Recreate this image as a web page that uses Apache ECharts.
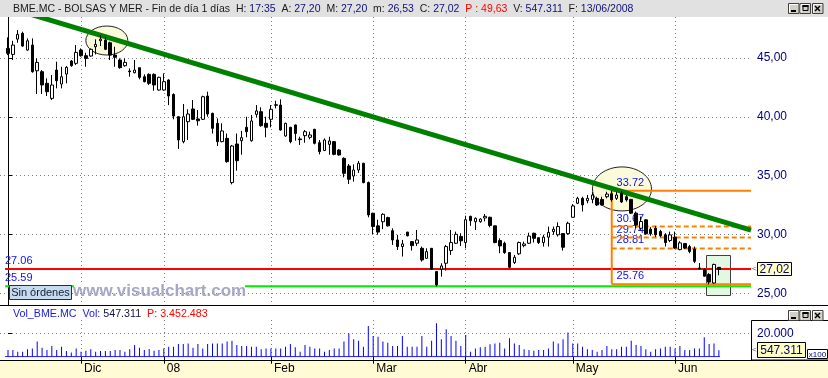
<!DOCTYPE html>
<html><head><meta charset="utf-8">
<script src="https://cdn.jsdelivr.net/npm/echarts@6/dist/echarts.min.js"></script>
<style>html,body{margin:0;padding:0;background:#fff}#c{width:828px;height:378px}</style>
</head><body><div id="c"></div>
<script>
const FONT = '"Liberation Sans", Arial, sans-serif';

// ---- categories: trading days (Madrid exchange) ----
const firstDay = '2007-11-12', lastDay = '2008-06-13';
const holidays = ['2007-12-24','2007-12-25','2007-12-26','2007-12-31','2008-01-01','2008-03-21','2008-03-24','2008-05-01'];
function tradingDays(start, end, skip) {
  const out = []; const d = new Date(start + 'T00:00:00Z'); const e = new Date(end + 'T00:00:00Z');
  while (d <= e) { const wd = d.getUTCDay(); const s = d.toISOString().slice(0, 10);
    if (wd !== 0 && wd !== 6 && skip.indexOf(s) < 0) out.push(s); d.setUTCDate(d.getUTCDate() + 1); }
  return out;
}
const dates = tradingDays(firstDay, lastDay, holidays);

// ---- tick labels ----
const monthKeys = ['2007-12','2008-01','2008-02','2008-03','2008-04','2008-05','2008-06'];
const monthTickLabels = ['Dic','08','Feb','Mar','Abr','May','Jun'];
const priceTicks = [25, 30, 35, 40, 45];
const volumeTicks = [20000];

// ---- series values ----
const opens = [45.82,45.31,46.61,47.10,45.68,46.10,43.92,43.84,42.85,41.57,
43.98,42.79,43.64,44.75,44.55,45.68,45.20,45.17,45.96,46.47,
46.53,46.30,45.25,44.83,44.35,43.90,43.75,44.18,43.41,43.61,
43.61,42.28,42.28,43.13,41.90,40.01,37.89,39.59,40.67,39.82,
39.79,41.77,40.30,39.45,37.89,38.17,34.41,37.69,37.97,39.11,
37.97,40.21,40.44,39.45,39.79,40.98,41.00,38.37,39.11,39.31,
38.12,38.40,38.26,38.94,37.80,37.13,37.66,37.89,37.18,36.47,
35.82,34.97,35.48,36.05,34.41,31.80,30.73,31.08,31.43,30.32,
29.53,28.97,30.20,29.39,29.25,28.82,27.97,28.82,26.84,27.04,
27.55,28.63,29.25,29.83,29.31,31.54,31.08,31.08,31.40,31.46,
30.73,29.48,29.25,28.46,27.61,28.35,29.05,29.25,30.10,29.72,
29.31,29.77,30.24,29.97,30.07,30.07,31.46,32.65,33.07,32.87,
32.98,33.07,32.98,33.21,33.46,33.07,33.52,33.21,32.98,31.81,
30.53,31.24,30.45,30.53,30.25,29.96,29.48,29.77,28.71,29.22,
28.97,28.76,27.15,27.02,26.60,25.87,27.20];
const highs = [46.76,46.47,47.38,47.24,46.67,46.67,44.97,43.98,43.27,43.56,
44.69,44.26,44.32,44.83,46.10,45.82,45.45,45.82,46.59,46.95,
46.81,46.39,45.96,44.97,44.97,44.12,44.83,44.18,43.61,43.70,
43.70,43.41,43.70,43.19,42.00,40.05,41.09,40.64,41.43,40.58,
41.80,42.14,40.35,39.87,39.45,38.58,37.61,38.58,38.80,40.01,
40.16,41.00,40.81,40.01,41.00,41.37,41.49,39.50,39.15,39.35,
38.31,38.88,38.74,38.98,38.03,38.17,38.31,37.93,37.25,36.56,
35.99,35.96,36.25,36.10,34.50,31.85,31.25,31.80,31.51,30.52,
29.97,29.53,30.22,29.42,30.38,28.97,28.82,28.85,26.88,27.55,
29.11,30.38,30.24,30.10,31.59,31.59,31.45,31.37,31.74,31.51,
30.76,29.67,29.39,28.50,28.26,29.39,29.39,30.15,30.15,29.77,
29.97,30.67,30.67,31.03,30.10,31.08,32.58,33.21,33.21,33.35,
33.60,33.21,33.21,33.63,33.72,33.63,33.70,33.35,33.00,31.95,
31.52,31.30,30.62,30.73,30.39,30.11,30.24,30.24,29.42,29.28,
29.11,28.97,27.57,27.11,26.71,27.51,27.20];
const lows = [45.25,44.83,46.30,45.96,45.62,43.75,41.94,41.94,41.77,41.43,
42.42,42.42,42.85,44.26,44.41,45.11,44.26,45.11,45.31,46.02,
45.68,44.83,44.26,44.09,44.26,43.41,43.70,43.19,42.93,42.71,
42.22,42.22,42.22,41.00,39.79,37.27,37.75,38.03,39.73,39.25,
39.73,40.01,38.58,37.52,37.83,36.10,34.26,35.42,36.78,38.26,
37.89,39.96,39.16,38.26,39.11,40.72,38.82,38.31,37.75,37.97,
37.61,37.80,38.09,37.66,36.81,37.10,36.78,36.73,36.70,34.86,
34.29,34.49,35.23,34.35,31.46,30.03,29.97,30.45,30.67,29.11,
28.68,28.12,29.83,28.63,29.02,27.69,27.92,26.98,25.59,26.41,
26.93,28.26,29.19,29.02,28.82,30.73,30.38,31.00,31.11,30.61,
29.25,28.40,28.35,27.13,27.49,28.26,28.91,29.19,29.31,29.19,
28.97,28.97,29.97,29.83,28.63,29.97,31.45,32.58,31.95,32.65,
32.65,32.42,32.45,33.07,32.79,32.93,32.68,32.79,31.75,30.53,
30.39,29.97,29.89,29.77,29.77,28.97,29.34,28.76,28.65,28.76,
28.40,27.57,27.02,26.42,25.76,25.81,26.53];
const closes = [45.40,46.10,47.01,46.02,46.47,43.84,44.63,42.71,42.14,42.71,
43.07,43.41,44.21,44.35,45.48,45.20,44.97,45.74,46.16,46.61,
45.74,45.25,45.06,44.18,44.63,43.84,43.98,43.36,42.99,42.85,
42.71,43.36,42.99,41.77,40.07,38.03,40.01,40.24,39.79,39.67,
41.71,40.24,39.02,37.89,38.80,36.19,37.52,36.27,38.23,38.74,
39.65,40.50,39.25,39.11,40.64,41.03,38.88,39.45,37.89,38.58,
38.06,38.74,38.46,37.75,37.04,38.03,37.95,36.81,36.76,35.20,
34.69,35.48,36.05,34.41,31.66,30.67,30.20,31.71,30.73,29.53,
28.97,29.19,29.89,29.05,29.53,27.83,28.54,27.04,25.71,27.32,
28.97,29.31,30.01,29.46,31.25,31.17,31.37,31.31,31.54,30.76,
29.31,29.02,28.46,27.21,28.06,29.31,29.19,29.86,29.67,29.31,
29.77,30.17,30.44,30.67,28.91,30.95,32.42,33.07,32.51,33.07,
33.35,32.51,32.51,33.43,32.95,33.35,32.76,32.93,31.81,30.81,
31.10,30.05,30.05,29.97,29.89,29.31,29.96,28.84,29.28,28.84,
28.55,27.71,27.08,26.45,25.95,27.45,27.02];
// volume, in hundreds of shares (axis shows x100)
const volumes = [5700,5700,4300,4300,6300,7100,12900,7700,5700,9100,
5700,8600,4900,3700,7100,4300,5100,6300,4300,4900,
4900,4900,5700,5700,4300,6300,10000,7700,5700,6600,
5100,5700,7100,8600,8600,10900,10900,11400,7700,10900,
7100,10900,11400,11400,11400,12900,13700,10000,9100,9100,
8600,8600,6300,7100,7100,7100,7100,8600,10900,8000,
4300,10000,8600,7100,7100,4300,5700,7100,7100,12900,
20000,14900,13700,8600,26300,17700,17100,12900,12000,9100,
9100,17700,8600,8600,8600,17700,8600,13700,28600,14900,
23400,17700,13700,9100,18600,4300,7100,8000,8600,10600,
11400,12000,7100,15700,11400,10000,6300,5700,5100,5700,
5700,7100,12900,11400,14900,20600,11400,11400,8600,6300,
5700,4300,5700,9100,6300,6300,8600,8600,13700,10000,
9100,6300,4300,6300,7100,8600,8600,7100,9100,5700,
5700,7100,7100,16600,10900,11400,5473.11];

// ---- annotation levels ----
const trendline = [[4, 48.80], [152.6, 30.36]];
const fibStartIndex = 124;
const fibLevels = [33.72, 30.67, 29.74, 28.81, 25.76];
const fibLabels = ['33.72', '30.67', '29.74', '28.81', '25.76'];
const resistanceLevel = 27.06, supportLevel = 25.59;
const ellipses = [{x: 20.3, y: 46.49, rx: 21, ry: 14.5}, {x: 126.1, y: 33.87, rx: 29.5, ry: 22}];
const highlightBox = {x0: 143.3, x1: 148.2, y0: 28.25, y1: 24.82};

// ---- derived ----
const monthStarts = monthKeys.map(k => dates.findIndex(d => d.startsWith(k)));
const labelOf = v => { const k = monthStarts.indexOf(Math.round(v)); return k >= 0 ? monthTickLabels[k] : ''; };
const fmt2 = v => v.toFixed(2).replace('.', ',');
const fmtThousands = n => String(Math.round(n)).replace(/\B(?=(\d{3})+(?!\d))/g, '.');
const N = dates.length, L = N - 1;
const X_MIN = -1.643, X_MAX = 152.6;
const candleData = dates.map((d, i) => [i, opens[i], closes[i], lows[i], highs[i]]);
const volData = dates.map((d, i) => [i, volumes[i]]);
const dotted = {color: '#808080', width: 1, type: [1, 3]};

function seg(points, color, width, type, z) {
  return {type: 'line', xAxisIndex: 0, yAxisIndex: 0, data: points, symbol: 'none', silent: true, z: z,
    lineStyle: {color: color, width: width, type: type || 'solid'}, animation: false};
}
const fibSeries = fibLevels.map((lv, k) => seg([[fibStartIndex, lv], [X_MAX, lv]], '#ff8000', 2,
  (k === 0 || k === fibLevels.length - 1) ? 'solid' : [5, 3], 2));
fibSeries.push(seg([[fibStartIndex, fibLevels[0]], [fibStartIndex, fibLevels[fibLevels.length - 1]]], '#ff8000', 2, 'solid', 2));

const chart = echarts.init(document.getElementById('c'), null, {renderer: 'canvas', width: 828, height: 378});
const option = {
  animation: false,
  backgroundColor: '#ffffff',
  textStyle: {fontFamily: FONT},
  grid: [
    {left: 0, top: 17, width: 751, height: 288},
    {left: 0, top: 320, width: 751, height: 36.7}
  ],
  xAxis: [
    {type: 'value', gridIndex: 0, min: X_MIN, max: X_MAX, axisLine: {show: false},
     axisTick: {show: false, customValues: monthStarts}, axisLabel: {show: false, customValues: monthStarts},
     splitLine: {show: true, lineStyle: dotted}},
    {type: 'value', gridIndex: 1, min: X_MIN, max: X_MAX, offset: 3, axisLine: {show: false},
     axisTick: {show: true, length: 7, customValues: monthStarts, lineStyle: {color: '#000', width: 1}},
     axisLabel: {show: true, customValues: monthStarts, formatter: v => labelOf(v), color: '#000', fontSize: 12,
       fontFamily: FONT, align: 'left', verticalAlign: 'middle', margin: 9, padding: [0, 0, 0, 3]},
     splitLine: {show: true, lineStyle: dotted}}
  ],
  yAxis: [
    {type: 'value', gridIndex: 0, position: 'right', min: 24, max: 48.49,
     axisLine: {show: true, lineStyle: {color: '#000', width: 1}},
     axisTick: {show: true, length: 4, customValues: priceTicks, lineStyle: {color: '#000'}},
     axisLabel: {customValues: priceTicks, formatter: v => fmt2(v), color: '#000080', fontSize: 12, fontFamily: FONT, margin: 6},
     splitLine: {show: true, lineStyle: dotted}},
    {type: 'value', gridIndex: 1, position: 'right', min: 0, max: 31400,
     axisLine: {show: false},
     axisTick: {show: true, length: 4, customValues: volumeTicks, lineStyle: {color: '#000'}},
     axisLabel: {customValues: volumeTicks, formatter: v => fmtThousands(v), color: '#000080', fontSize: 12, fontFamily: FONT, margin: 6},
     splitLine: {show: true, lineStyle: dotted}}
  ],
  series: [
    seg([[-0.6, resistanceLevel], [X_MAX, resistanceLevel]], '#ff0000', 2, 'solid', 2),
    seg([[-0.6, supportLevel], [X_MAX, supportLevel]], '#00ee00', 2, 'solid', 2),
    ...fibSeries,
    seg(trendline, '#008000', 5, 'solid', 2),
    {type: 'candlestick', xAxisIndex: 0, yAxisIndex: 0, z: 3, barWidth: 3,
     dimensions: ['i', 'open', 'close', 'low', 'high'], encode: {x: 0, y: [1, 2, 3, 4]},
     data: candleData, silent: true,
     itemStyle: {color: '#ffffff', color0: '#000000', borderColor: '#000000', borderColor0: '#000000', borderWidth: 1}},
    {type: 'bar', xAxisIndex: 1, yAxisIndex: 1, data: volData, barWidth: 1, silent: true,
     itemStyle: {color: '#0000ff'}, z: 3},
    {type: 'line', xAxisIndex: 1, yAxisIndex: 1, data: [[-0.6, 0], [L + 0.2, 0]], symbol: 'none', silent: true,
     lineStyle: {color: '#0000ff', width: 1}, z: 3}
  ]
};
chart.setOption(option);

// ---- decorations positioned from data ----
const P = (x, y) => chart.convertToPixel({gridIndex: 0}, [x, y]);
const PV = (x, y) => chart.convertToPixel({gridIndex: 1}, [x, y]);
const G = [];
function txt(x, y, text, color, size, opts) {
  return Object.assign({type: 'text', x: x, y: y, z: 6, silent: true,
    style: {text: text, fill: color, font: (opts && opts.weight ? opts.weight + ' ' : '') + size + 'px ' + FONT,
      textAlign: (opts && opts.align) || 'left', textVerticalAlign: (opts && opts.va) || 'middle',
      align: (opts && opts.align) || 'left', verticalAlign: (opts && opts.va) || 'middle'}}, (opts && opts.extra) || {});
}
// ellipses
ellipses.forEach(e => { const c = P(e.x, e.y);
  G.push({type: 'ellipse', z: 1, silent: true, shape: {cx: c[0], cy: c[1], rx: e.rx, ry: e.ry},
    style: {fill: '#fbfbdc', stroke: '#202020', lineWidth: 1}}); });
// highlight box
{ const a = P(highlightBox.x0, highlightBox.y0), b = P(highlightBox.x1, highlightBox.y1);
  G.push({type: 'rect', z: 1, silent: true, shape: {x: Math.round(a[0]) + 0.5, y: Math.round(a[1]) + 0.5, width: Math.round(b[0] - a[0]), height: Math.round(b[1] - a[1])},
    style: {fill: '#e2f8e2', stroke: '#404040', lineWidth: 1}}); }
// fib labels (under candles)
fibLevels.forEach((lv, k) => { const p = P(fibStartIndex + 1, lv);
  G.push(Object.assign(txt(p[0], p[1] - 8, fibLabels[k], '#1010f0', 11), {z: 1})); });
// support/resistance labels
[[resistanceLevel, '27.06'], [supportLevel, '25.59']].forEach(r => { const p = P(0, r[0]);
  G.push(Object.assign(txt(5, p[1] - 8, r[1], '#1010f0', 11), {z: 1})); });
// watermark with white backing
G.push({type: 'rect', z: 5, silent: true, shape: {x: 74, y: 283, width: 171, height: 6}, style: {fill: '#ffffff'}});
G.push(txt(73, 291, 'www.visualchart.com', '#a6a6c8', 17, {weight: 'bold'}));
// "Sin órdenes" box
G.push({type: 'rect', z: 7, silent: true, shape: {x: 9.5, y: 285.5, width: 62, height: 14}, style: {fill: '#c8daf0', stroke: '#1c3444', lineWidth: 1}});
G.push(Object.assign(txt(40.5, 293, 'Sin órdenes', '#102030', 11, {align: 'center'}), {z: 8}));
// main frame lines
G.push({type: 'line', z: 9, silent: true, shape: {x1: 0, y1: 305.5, x2: 828, y2: 305.5}, style: {stroke: '#000', lineWidth: 1}});
G.push({type: 'rect', z: 9, silent: true, shape: {x: 751.5, y: 320.5, width: 80, height: 39.5}, style: {fill: null, stroke: '#000', lineWidth: 1}});
// bottom band
G.push({type: 'rect', z: 0, silent: true, shape: {x: 0, y: 360, width: 828, height: 18}, style: {fill: '#fffbd4'}});
G.push({type: 'line', z: 9, silent: true, shape: {x1: 0, y1: 360.5, x2: 828, y2: 360.5}, style: {stroke: '#000', lineWidth: 1}});
// last price marker
{ const p = P(0, closes[L]); const cy = Math.round(p[1]);
  G.push({type: 'rect', z: 9, silent: true, shape: {x: 757.5, y: cy - 6.5, width: 34, height: 13}, style: {fill: '#ffffc0', stroke: '#000', lineWidth: 1}});
  G.push(Object.assign(txt(774.5, cy + 0.5, fmt2(closes[L]), '#000080', 12, {align: 'center'}), {z: 10}));
  G.push(Object.assign(txt(752, cy, '<', '#606060', 8), {z: 10})); }
// last volume marker
{ const p = PV(0, volumes[L]); const cy = Math.round(p[1]);
  G.push({type: 'rect', z: 9, silent: true, shape: {x: 757.5, y: cy - 7.5, width: 48, height: 15}, style: {fill: '#ffffc0', stroke: '#000', lineWidth: 1}});
  G.push(Object.assign(txt(781.5, cy + 0.5, fmtThousands(volumes[L] * 100), '#000080', 12, {align: 'center'}), {z: 10}));
  G.push(Object.assign(txt(752, cy, '<', '#606060', 8), {z: 10}));
  G.push({type: 'rect', z: 9, silent: true, shape: {x: 807.5, y: 349.5, width: 20, height: 9}, style: {fill: '#ffffff', stroke: '#000', lineWidth: 1}});
  G.push(Object.assign(txt(817.5, 354.5, 'x100', '#000080', 8, {align: 'center'}), {z: 10})); }
// title bar
G.push({type: 'rect', z: 10, silent: true, shape: {x: 0, y: 0, width: 828, height: 17}, style: {fill: '#e1e1e1'}});
const o = opens[L], h = highs[L], lo = lows[L], c = closes[L];
const title = '{k|BME.MC - BOLSAS Y MER - Fin de día 1 días  H: }{v|17:35}{k|  A: }{v|' + fmt2(o) + '}{k|  M: }{v|' + fmt2(h) +
  '}{k|  m: }{v|' + fmt2(lo) + '}{k|  C: }{v|' + fmt2(c) + '}{r|  P : 49,63}{k|  V: }{v|' + fmtThousands(volumes[L] * 100) +
  '}{k|  F: }{v|' + dates[L].split('-').reverse().join('/') + '}';
const rs = (col, sz) => ({fill: col, fontSize: sz, fontFamily: FONT});
G.push({type: 'text', z: 11, silent: true, x: 13, y: 9, style: {text: title, fontSize: 10.5, fontFamily: FONT, textVerticalAlign: 'middle', verticalAlign: 'middle',
  rich: {k: rs('#1a1a1a', 10.5), v: rs('#10107a', 10.5), r: rs('#ff0000', 10.5)}}});
const vtitle = '{b|Vol_BME.MC  Vol: }{v|' + fmtThousands(volumes[L] * 100) + '}{r|  P: 3.452.483}';
G.push({type: 'text', z: 11, silent: true, x: 13, y: 314, style: {text: vtitle, fontSize: 10.7, fontFamily: FONT, textVerticalAlign: 'middle', verticalAlign: 'middle',
  rich: {b: rs('#1a1ae0', 10.7), v: rs('#10104a', 10.7), r: rs('#ff0000', 10.7)}}});
// window buttons
function buttons(y) {
  [788, 799.5, 812].forEach((x, k) => {
    G.push({type: 'rect', z: 20, silent: true, shape: {x: x + 0.5, y: y + 0.5, width: 10.5, height: 10}, style: {fill: '#d4d0c8', stroke: '#404040', lineWidth: 1}});
    G.push({type: 'polyline', z: 21, silent: true, shape: {points: [[x + 1.5, y + 9.5], [x + 1.5, y + 1.5], [x + 10, y + 1.5]]}, style: {stroke: '#ffffff', lineWidth: 1, fill: null}});
    if (k === 0) G.push({type: 'rect', z: 22, silent: true, shape: {x: x + 3, y: y + 7, width: 5, height: 2}, style: {fill: '#000'}});
    if (k === 1) { G.push({type: 'rect', z: 22, silent: true, shape: {x: x + 3.5, y: y + 2.5, width: 5, height: 5}, style: {fill: null, stroke: '#000', lineWidth: 1}});
      G.push({type: 'rect', z: 22, silent: true, shape: {x: x + 3, y: y + 2, width: 6, height: 2}, style: {fill: '#000'}}); }
    if (k === 2) { G.push({type: 'line', z: 22, silent: true, shape: {x1: x + 3, y1: y + 3, x2: x + 8, y2: y + 8}, style: {stroke: '#000', lineWidth: 1.4}});
      G.push({type: 'line', z: 22, silent: true, shape: {x1: x + 8, y1: y + 3, x2: x + 3, y2: y + 8}, style: {stroke: '#000', lineWidth: 1.4}}); }
  });
}
buttons(3); buttons(310);
chart.setOption({graphic: {elements: G}});
</script></body></html>
